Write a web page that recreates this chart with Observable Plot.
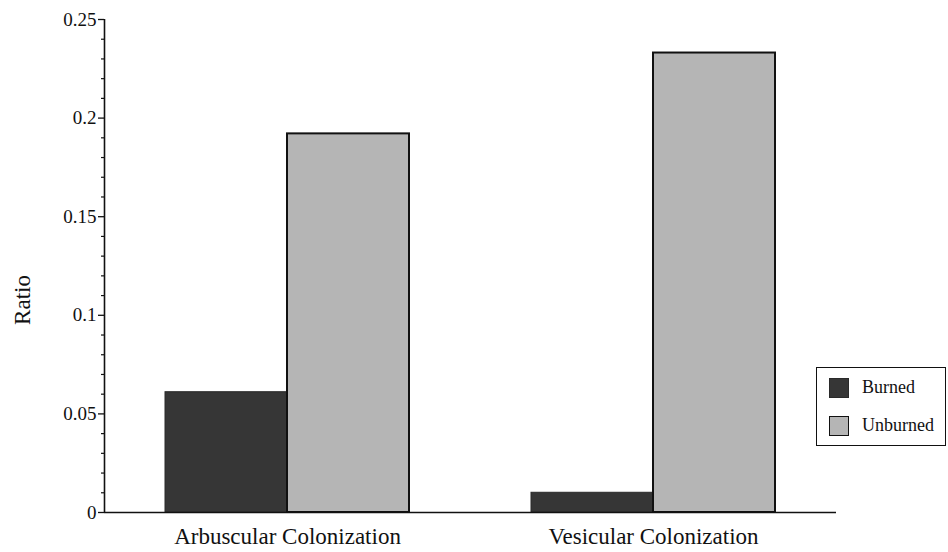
<!DOCTYPE html>
<html>
<head>
<meta charset="utf-8">
<script src="https://cdn.jsdelivr.net/npm/d3@7"></script>
<script src="https://cdn.jsdelivr.net/npm/@observablehq/plot@0.6"></script>
<style>
  html, body { margin: 0; padding: 0; background: #fff; }
  #wrap { position: relative; width: 948px; height: 552px; font-family: "Liberation Serif", "DejaVu Serif", serif; color: #111; }
  #legend { position: absolute; left: 816px; top: 367px; width: 128px; height: 77px; border: 1.5px solid #111; background: #fff; }
  .item { position: absolute; left: 12px; display: flex; align-items: center; font-size: 18px; }
  .sw { width: 20px; height: 20px; margin-right: 13px; box-sizing: border-box; }
</style>
</head>
<body>
<div id="wrap"></div>
<script>
const categories = ["Arbuscular Colonization", "Vesicular Colonization"];
const series = ["Burned", "Unburned"];
const burned = [0.061, 0.010];
const unburned = [0.192, 0.233];
const yTicks = [0, 0.05, 0.1, 0.15, 0.2, 0.25];
const yTickLabels = ["0", "0.05", "0.1", "0.15", "0.2", "0.25"];
const yLabel = "Ratio";

const colors = {Burned: "#363636", Unburned: "#b5b5b5"};
const strokes = {Burned: "#2a2a2a", Unburned: "#111"};

const rows = categories.flatMap((c, i) => [
  {cat: c, pos: i + 1, series: "Burned", value: burned[i]},
  {cat: c, pos: i + 1, series: "Unburned", value: unburned[i]}
]);
const barW = 1 / 3;
const minorTicks = d3.range(0, 0.2501, 0.01).filter(v => Math.abs(v * 20 - Math.round(v * 20)) > 1e-6);

const chart = Plot.plot({
  width: 948,
  height: 552,
  marginLeft: 104,
  marginRight: 112,
  marginTop: 19,
  marginBottom: 40,
  style: {fontFamily: "'Liberation Serif', serif", color: "#111", background: "#fff"},
  x: {type: "linear", domain: [0.5, 2.5], axis: null},
  y: {domain: [0, 0.25], axis: null},
  marks: [
    Plot.rectY(rows, {
      x1: d => d.series === "Burned" ? d.pos - barW : d.pos,
      x2: d => d.series === "Burned" ? d.pos : d.pos + barW,
      y1: 0,
      y2: "value",
      fill: d => colors[d.series],
      stroke: d => strokes[d.series],
      strokeWidth: d => d.series === "Unburned" ? 2 : 1
    }),
    Plot.ruleX([0.5], {y1: 0, y2: 0.25, stroke: "#111", strokeWidth: 1.6}),
    Plot.ruleY([0], {x1: 0.5, x2: 2.5, stroke: "#111", strokeWidth: 1.6}),
    Plot.axisY(yTicks, {
      tickSize: 6, tickPadding: 2, fontSize: 19, stroke: "#111", strokeWidth: 1.3,
      tickFormat: d => yTickLabels[yTicks.indexOf(d)], label: null
    }),
    Plot.axisY(minorTicks, {tickSize: 3, tickFormat: () => "", stroke: "#111", strokeWidth: 1.2, label: null}),
    Plot.axisX([1, 2], {
      tickSize: 0, tickPadding: 15, fontSize: 23,
      tickFormat: d => categories[d - 1], label: null
    }),
    Plot.text([yLabel], {frameAnchor: "left", textAnchor: "middle", dx: -82, dy: 34, rotate: -90, fontSize: 23, fill: "#111"})
  ]
});

const wrap = document.getElementById("wrap");
wrap.appendChild(chart);

const legend = document.createElement("div");
legend.id = "legend";
series.forEach((s, i) => {
  const item = document.createElement("div");
  item.className = "item";
  item.style.top = (i === 0 ? 9 : 47) + "px";
  const sw = document.createElement("div");
  sw.className = "sw";
  sw.style.background = colors[s];
  sw.style.border = i === 0 ? "1px solid #2a2a2a" : "1.5px solid #111";
  const t = document.createElement("span");
  t.textContent = s;
  item.appendChild(sw);
  item.appendChild(t);
  legend.appendChild(item);
});
wrap.appendChild(legend);
</script>
</body>
</html>
